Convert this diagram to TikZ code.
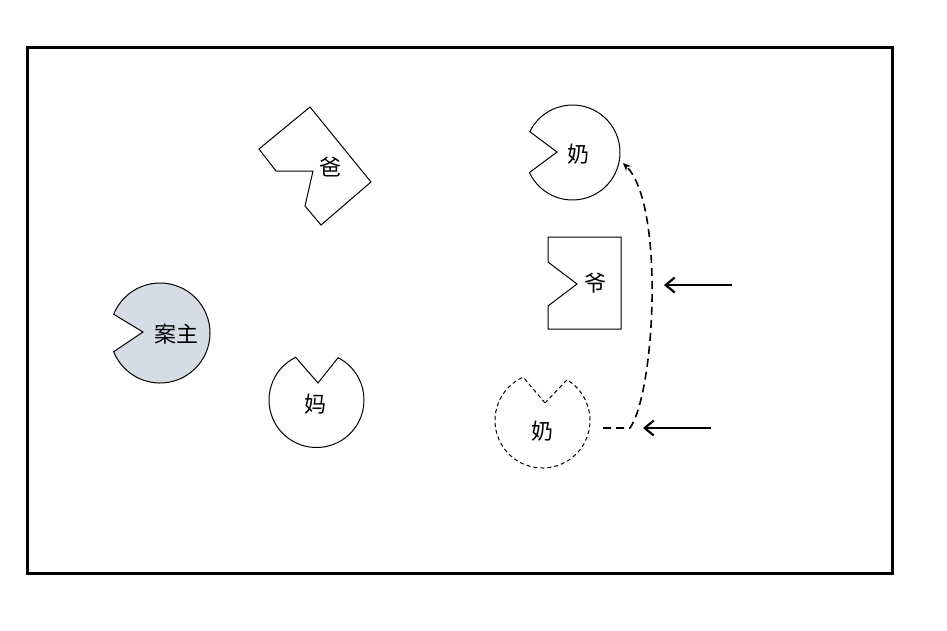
\documentclass[tikz,border=0pt]{standalone}
\usepackage{fontspec}
\newfontfamily\cjk{Noto Sans CJK SC}
\usetikzlibrary{arrows.meta,calc}
\definecolor{hostfill}{HTML}{D6DCE5}
\tikzset{
  shp/.style={draw=black,line width=1pt,line join=miter},
  dsh/.style={shp,dash pattern=on 4pt off 3pt},
  movepath/.style={draw=black,line width=1.6pt,dash pattern=on 8pt off 5pt,-{Stealth[length=8pt,width=7pt]}},
  lbl/.style={font=\cjk\fontsize{22}{22}\selectfont,inner sep=0pt},
  bigarrow/.style={draw=black,line width=2.2pt,-{Straight Barb[length=9pt,width=15pt,line width=2.2pt]}},
}
\begin{document}
\begin{tikzpicture}[x=1pt,y=1pt]
\useasboundingbox (0,0) rectangle (947,-630);
\draw[line width=3pt] (27,-47) rectangle (892,-573);
% 爸
\draw[shp] (310,-107) -- (371,-182) -- (321,-225) -- (305,-206) -- (313,-171) -- (276,-171) -- (259,-149) -- cycle;
\node[lbl] (ba) at (330,-167) {爸};
% 案主
\draw[shp,fill=hostfill] (143,-332) -- ([shift={(160,-333)}]202:50) arc[start angle=202,end angle=518,radius=50] -- cycle;
\node[lbl] (host) at (176,-334) {案主};
% 妈
\draw[shp] (318,-383) -- ([shift={(316.5,-400)}]116:47.5) arc[start angle=116,end angle=423,radius=47.5] -- cycle;
\node[lbl] (ma) at (315,-404) {妈};
% 奶 top
\coordinate (naic) at (572.5,-152.5);
\draw[shp] (557,-152) -- ([shift={(naic)}]205:47.5) arc[start angle=205,end angle=514,radius=47.5] -- cycle;
\node[lbl] (nai) at (578,-154) {奶};
% 爷
\draw[shp] (548,-237) -- (621,-237) -- (621,-329) -- (548,-329) -- (548,-306) -- (577,-284) -- (548,-262) -- cycle;
\node[lbl] (ye) at (595,-283) {爷};
% 奶 dashed
\draw[dsh] (545,-403) -- ([shift={(542.5,-420.5)}]114:47.5) arc[start angle=114,end angle=419,radius=47.5] -- cycle;
\node[lbl] (naiold) at (542,-431) {奶};
% moving path
\coordinate (ms) at (603,-428);
\coordinate (mb) at (630,-428);
\coordinate (me) at (623,-163);
\draw[movepath] (ms) -- (mb) .. controls (655,-392) and (665,-205) .. (me);
% arrows
\coordinate (a1s) at (732,-285);
\coordinate (a1e) at (664,-285);
\coordinate (a2s) at (711,-428);
\coordinate (a2e) at (643,-428);
\draw[bigarrow] (a1s) -- (a1e);
\draw[bigarrow] (a2s) -- (a2e);
\end{tikzpicture}
\end{document}
